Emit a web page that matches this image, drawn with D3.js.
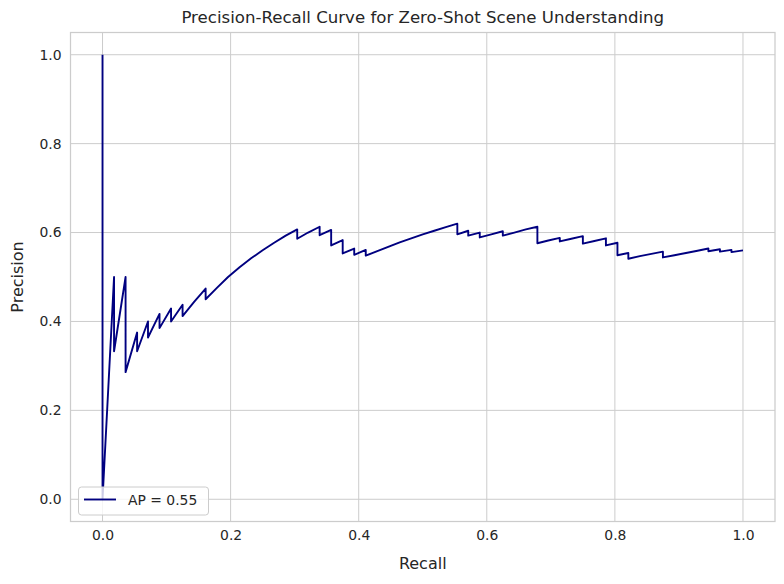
<!DOCTYPE html>
<html>
<head>
<meta charset="utf-8">
<script src="https://cdn.jsdelivr.net/npm/d3@7"></script>
<style>
  html, body { margin: 0; padding: 0; background: #ffffff; }
  svg { display: block; font-family: "DejaVu Sans", sans-serif; }
</style>
</head>
<body>
<svg id="chart" width="784" height="584"></svg>
<script>
// ---- Data ----
const recall = [
  0, 0, 0.018, 0.018, 0.036, 0.036, 0.036, 0.036, 0.054, 0.054,
  0.071, 0.071, 0.089, 0.089, 0.107, 0.107, 0.125, 0.125, 0.143, 0.161,
  0.161, 0.179, 0.196, 0.214, 0.232, 0.25, 0.268, 0.286, 0.304, 0.304,
  0.321, 0.339, 0.339, 0.357, 0.357, 0.357, 0.375, 0.375, 0.375, 0.393,
  0.393, 0.411, 0.411, 0.429, 0.446, 0.464, 0.482, 0.5, 0.518, 0.536,
  0.554, 0.554, 0.554, 0.571, 0.571, 0.589, 0.589, 0.607, 0.625, 0.625,
  0.643, 0.661, 0.679, 0.679, 0.679, 0.679, 0.679, 0.696, 0.714, 0.714,
  0.732, 0.75, 0.75, 0.75, 0.768, 0.786, 0.786, 0.786, 0.804, 0.804,
  0.804, 0.804, 0.804, 0.821, 0.821, 0.821, 0.839, 0.857, 0.875, 0.875,
  0.875, 0.893, 0.911, 0.929, 0.946, 0.946, 0.964, 0.964, 0.982, 0.982,
  1.0
];
const precision = [
  1.0, 0.0, 0.5, 0.333, 0.5, 0.4, 0.333, 0.286, 0.375, 0.333,
  0.4, 0.364, 0.417, 0.385, 0.429, 0.4, 0.4375, 0.412, 0.444, 0.474,
  0.45, 0.476, 0.5, 0.522, 0.542, 0.56, 0.577, 0.593, 0.607, 0.586,
  0.6, 0.613, 0.594, 0.606, 0.588, 0.571, 0.583, 0.568, 0.553, 0.564,
  0.55, 0.561, 0.548, 0.558, 0.568, 0.578, 0.587, 0.596, 0.604, 0.612,
  0.62, 0.608, 0.596, 0.604, 0.593, 0.6, 0.589, 0.596, 0.603, 0.593,
  0.6, 0.607, 0.613, 0.603, 0.594, 0.585, 0.576, 0.582, 0.588, 0.58,
  0.586, 0.592, 0.583, 0.575, 0.581, 0.587, 0.579, 0.571, 0.577, 0.57,
  0.5625, 0.556, 0.549, 0.554, 0.548, 0.541, 0.547, 0.552, 0.557, 0.551,
  0.544, 0.549, 0.554, 0.559, 0.564, 0.558, 0.5625, 0.557, 0.561, 0.556,
  0.56
];
const xTicks = [0.0, 0.2, 0.4, 0.6, 0.8, 1.0];
const yTicks = [0.0, 0.2, 0.4, 0.6, 0.8, 1.0];
const legendLabel = "AP = 0.55";
const titleText = "Precision-Recall Curve for Zero-Shot Scene Understanding";
const xLabel = "Recall";
const yLabel = "Precision";

// ---- Layout ----
const svg = d3.select("#chart");
const L = 70.5, R = 775, T = 32.5, B = 521.5;
const gridColor = "#cccccc";
const textColor = "#262626";

const x = d3.scaleLinear().domain([-0.05, 1.05]).range([L, R]);
const y = d3.scaleLinear().domain([-0.05, 1.05]).range([B, T]);

svg.append("rect").attr("width", 784).attr("height", 584).attr("fill", "#ffffff");

// Grid
const grid = svg.append("g");
grid.selectAll("line.gx").data(xTicks).enter().append("line")
  .attr("x1", d => x(d)).attr("x2", d => x(d)).attr("y1", T).attr("y2", B)
  .attr("stroke", gridColor).attr("stroke-width", 1);
grid.selectAll("line.gy").data(yTicks).enter().append("line")
  .attr("y1", d => y(d)).attr("y2", d => y(d)).attr("x1", L).attr("x2", R)
  .attr("stroke", gridColor).attr("stroke-width", 1);

// Axes (tick labels via d3 axes, no tick marks)
const xAxis = d3.axisBottom(x).tickValues(xTicks).tickFormat(d3.format(".1f")).tickSize(0).tickPadding(9);
const yAxis = d3.axisLeft(y).tickValues(yTicks).tickFormat(d3.format(".1f")).tickSize(0).tickPadding(9);
const gx = svg.append("g").attr("transform", `translate(0,${B})`).call(xAxis);
const gy = svg.append("g").attr("transform", `translate(${L},0)`).call(yAxis);
[gx, gy].forEach(g => {
  g.select(".domain").remove();
  g.selectAll("text").attr("fill", textColor).style("font-size", "13.9px")
    .style("font-family", "DejaVu Sans, sans-serif");
});

// Curve
const line = d3.line().x((d, i) => x(recall[i])).y((d, i) => y(precision[i]));
svg.append("path").datum(recall)
  .attr("d", line)
  .attr("fill", "none")
  .attr("stroke", "#000080")
  .attr("stroke-width", 1.9)
  .attr("stroke-linejoin", "round");

// Spines
svg.append("rect").attr("x", L).attr("y", T).attr("width", R - L).attr("height", B - T)
  .attr("fill", "none").attr("stroke", gridColor).attr("stroke-width", 1.25);

// Legend
const lg = svg.append("g");
lg.append("rect").attr("x", 78.5).attr("y", 487).attr("width", 130).attr("height", 28)
  .attr("rx", 3).attr("fill", "#ffffff").attr("fill-opacity", 0.8)
  .attr("stroke", gridColor).attr("stroke-width", 1);
lg.append("line").attr("x1", 84).attr("x2", 116).attr("y1", 499.5).attr("y2", 499.5)
  .attr("stroke", "#000080").attr("stroke-width", 1.9);
lg.append("text").attr("x", 128).attr("y", 505).text(legendLabel)
  .attr("fill", textColor).style("font-size", "13.9px");

// Title and labels
svg.append("text").attr("x", (L + R) / 2).attr("y", 22.5).attr("text-anchor", "middle")
  .attr("fill", textColor).style("font-size", "16.6px").text(titleText);
svg.append("text").attr("x", (L + R) / 2).attr("y", 569).attr("text-anchor", "middle")
  .attr("fill", textColor).style("font-size", "16px").text(xLabel);
svg.append("text").attr("transform", `translate(23,${(T + B) / 2}) rotate(-90)`)
  .attr("text-anchor", "middle").attr("fill", textColor).style("font-size", "16px").text(yLabel);
</script>
</body>
</html>
